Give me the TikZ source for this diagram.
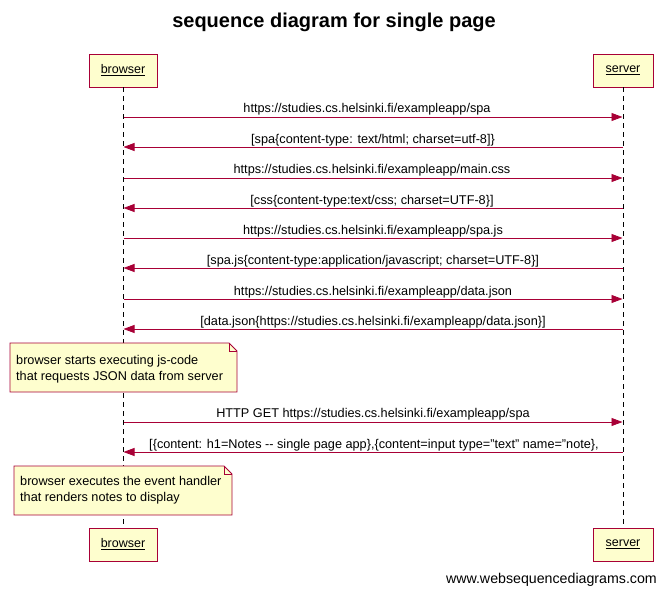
\documentclass[tikz,border=0pt]{standalone}
\usepackage{fontspec}
\setmainfont{Liberation Sans}
\usetikzlibrary{arrows.meta}
\definecolor{seqline}{HTML}{A80036}
\definecolor{seqfill}{HTML}{FEFECE}
\begin{document}
\begin{tikzpicture}[x=1pt,y=-1pt,
  actor/.style={draw=seqline,fill=seqfill,line width=0.9pt,minimum height=33pt,inner sep=0pt,font=\fontsize{12.5}{14}\selectfont},
  msg/.style={draw=seqline,line width=0.8pt,-{Triangle[length=11pt,width=8pt]}},
  lbl/.style={font=\fontsize{12.7}{14}\selectfont,inner sep=0pt},
  life/.style={line width=0.8pt,dash pattern=on 5pt off 4pt},
  notebox/.style={draw=seqline,fill=seqfill,line width=0.9pt},
  notetext/.style={font=\fontsize{12.7}{16}\selectfont,align=left,anchor=west,inner sep=0pt}]
\useasboundingbox (0,0) rectangle (666,595);
\node[font=\bfseries\fontsize{20}{24}\selectfont] (title) at (334,22) {sequence diagram for single page};
\node[actor,minimum width=68pt] (bt) at (123,70.5) {\underline{browser}};
\node[actor,minimum width=60pt] (st) at (623,70.5) {\underline{server}};
\node[actor,minimum width=68pt] (bb) at (123,544.5) {\underline{browser}};
\node[actor,minimum width=60pt] (sb) at (623,544.5) {\underline{server}};
\draw[life] (bt.south) -- (bb.north);
\draw[life] (st.south) -- (sb.north);
% message end points
\foreach \i/\y in {1/117,2/147,3/178,4/208,5/238,6/268,7/299,8/329,9/422,10/452}{
  \coordinate (b\i) at (123.5,\y);
  \coordinate (s\i) at (622.5,\y);
}
\draw[msg] (b1) -- (s1);
\node[lbl] (l1) at (367,109) {https://studies.cs.helsinki.fi/exampleapp/spa};
\draw[msg] (s2) -- (b2);
\node[lbl] (l2) at (373,140) {[spa\{content-type: text/html; charset=utf-8]\}};
\draw[msg] (b3) -- (s3);
\node[lbl] (l3) at (372,170) {https://studies.cs.helsinki.fi/exampleapp/main.css};
\draw[msg] (s4) -- (b4);
\node[lbl] (l4) at (372,201) {[css\{content-type:text/css; charset=UTF-8\}]};
\draw[msg] (b5) -- (s5);
\node[lbl] (l5) at (373,231) {https://studies.cs.helsinki.fi/exampleapp/spa.js};
\draw[msg] (s6) -- (b6);
\node[lbl] (l6) at (373,261) {[spa.js\{content-type:application/javascript; charset=UTF-8\}]};
\draw[msg] (b7) -- (s7);
\node[lbl] (l7) at (373,292) {https://studies.cs.helsinki.fi/exampleapp/data.json};
\draw[msg] (s8) -- (b8);
\node[lbl] (l8) at (373,322) {[data.json\{https://studies.cs.helsinki.fi/exampleapp/data.json\}]};
% note 1
\draw[notebox] (10,343) -- (229,343) -- (237,351) -- (237,392) -- (10,392) -- cycle;
\draw[seqline,line width=0.9pt] (229,343) -- (229,351) -- (237,351);
\node[notetext] (n1) at (16,369) {browser starts executing js-code\\that requests JSON data from server};
\draw[msg] (b9) -- (s9);
\node[lbl] (l9) at (373,414) {HTTP GET https://studies.cs.helsinki.fi/exampleapp/spa};
\draw[msg] (s10) -- (b10);
\node[lbl] (l10) at (374,445) {[\{content: h1=Notes -{}- single page app\},\{content=input type="text" name="note\},};
% note 2
\draw[notebox] (14,466) -- (224,466) -- (232,474) -- (232,515) -- (14,515) -- cycle;
\draw[seqline,line width=0.9pt] (224,466) -- (224,474) -- (232,474);
\node[notetext] (n2) at (20,490) {browser executes the event handler\\that renders notes to display};
\node[font=\fontsize{14.2}{16}\selectfont,anchor=east,inner sep=0pt] (footer) at (657,580) {www.websequencediagrams.com};
\end{tikzpicture}
\end{document}
